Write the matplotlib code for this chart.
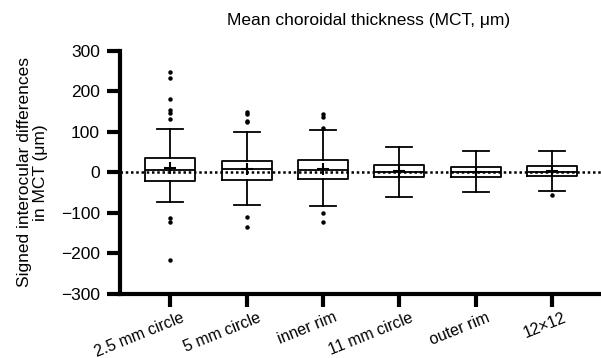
import matplotlib
matplotlib.use("Agg")
import matplotlib.pyplot as plt
import matplotlib.transforms as mtransforms

plt.rcParams["font.family"] = ["Liberation Sans", "DejaVu Sans"]
plt.rcParams["axes.unicode_minus"] = True

# regions and box statistics (µm)
regions = ["2.5 mm circle", "5 mm circle", "inner rim", "11 mm circle", "outer rim", "12\u00d712"]
whisk_lo = [-72, -81, -82, -61, -49, -47]
q1 = [-22, -20, -17, -12, -12, -10]
median = [6, 8, 5, 1, 0, 1]
q3 = [35, 27, 30, 18, 14, 16]
whisk_hi = [108, 100, 104, 62, 53, 53]
mean = [12, 9, 8, 3, 2, 3]
outliers = [
    [248, 234, 182, 153, 146, 131, -112, -123, -216],
    [150, 143, 126, 124, -109, -136],
    [145, 136, 109, -101, -123],
    [],
    [],
    [-55],
]

stats = []
for i, name in enumerate(regions):
    stats.append(dict(label=name, whislo=whisk_lo[i], q1=q1[i], med=median[i],
                      q3=q3[i], whishi=whisk_hi[i], mean=mean[i], fliers=outliers[i]))

fig = plt.figure(figsize=(6.01, 3.58), dpi=100)
ax = fig.add_axes([0.2, 0.179, 0.8, 0.679])

ax.axhline(0, color="black", lw=1.8, ls=(0, (1, 1.1)), zorder=1)

line = dict(color="black", linewidth=1.3)
ax.bxp(stats, positions=range(1, 7), widths=0.655, capwidths=0.34,
       showmeans=True, showfliers=True,
       boxprops=line, whiskerprops=line, capprops=line,
       medianprops=line,
       meanprops=dict(marker="+", markersize=8, markeredgecolor="black", markeredgewidth=1.5),
       flierprops=dict(marker="o", markersize=2.2, markerfacecolor="black",
                       markeredgecolor="black"))

ax.set_xlim(0.345, 6.64)
ax.set_ylim(-300, 300)
ax.set_yticks([-300, -200, -100, 0, 100, 200, 300])
ax.set_yticklabels(["\u2212300", "\u2212200", "\u2212100", "0", "100", "200", "300"])

for s in ["top", "right"]:
    ax.spines[s].set_visible(False)
for s in ["left", "bottom"]:
    ax.spines[s].set_linewidth(3)
ax.tick_params(axis="both", width=3, length=9.5, labelsize=12.5, color="black")
ax.tick_params(axis="y", pad=5)
ax.tick_params(axis="x", pad=2)

ax.set_xticks(range(1, 7))
ax.set_xticklabels(regions, rotation=22, ha="right", fontsize=11.5)
offset = mtransforms.ScaledTranslation(16 / 100, 0, fig.dpi_scale_trans)
for lbl in ax.get_xticklabels():
    lbl.set_transform(lbl.get_transform() + offset)

ax.set_ylabel("Signed interocular differences\nin MCT (\u03bcm)", fontsize=12.5, labelpad=9,
              linespacing=1.15)
fig.text(369 / 601, 1 - 20 / 358, "Mean choroidal thickness (MCT, \u03bcm)",
         ha="center", va="center", fontsize=12.5)

fig.savefig("out.png", dpi=100)
